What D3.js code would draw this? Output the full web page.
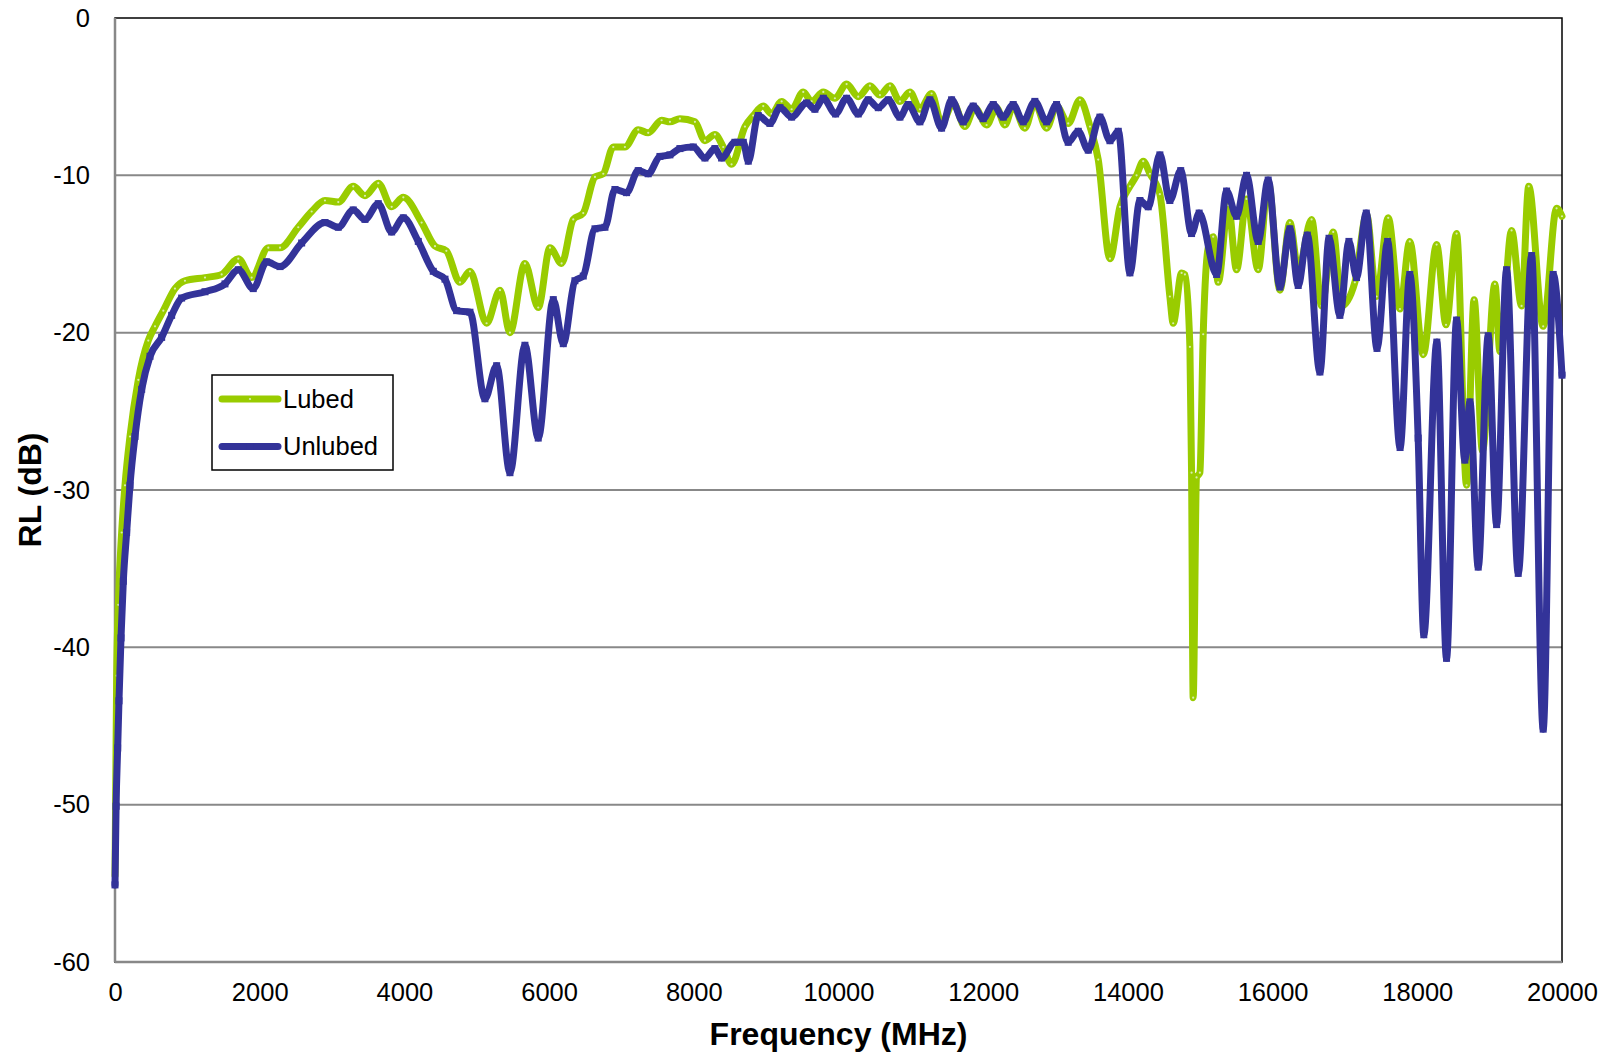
<!DOCTYPE html>
<html>
<head>
<meta charset="utf-8">
<title>RL vs Frequency</title>
<style>
  body, html { margin: 0; padding: 0; background: #fff; }
  svg { display: block; font-family: Arial, "Liberation Sans", sans-serif; }
</style>
</head>
<body>
<svg id="svg" width="1606" height="1054"></svg>
<script src="https://d3js.org/d3.v7.min.js"></script>
<script>
// frequency (MHz) and return loss (dB)
const lubedFreq = [0, 23, 46, 92, 138, 207, 322, 460, 553, 668, 829, 967, 1244, 1474, 1704, 1889, 2119, 2281, 2533, 2718,
  2902, 3086, 3293, 3455, 3639, 3824, 3985, 4238, 4423, 4580, 4768, 4906, 5136, 5321, 5459, 5666, 5850, 6012, 6173, 6334,
  6472, 6634, 6749, 6887, 7048, 7232, 7370, 7555, 7670, 7808, 8016, 8154, 8292, 8407, 8522, 8707, 8822, 8960, 9075, 9214,
  9352, 9513, 9628, 9790, 9950, 10112, 10273, 10434, 10573, 10711, 10849, 10987, 11125, 11287, 11425, 11586, 11747, 11885, 12047, 12185,
  12300, 12415, 12576, 12714, 12876, 13014, 13175, 13337, 13476, 13590, 13752, 13890, 14028, 14120, 14212, 14304, 14442, 14580, 14626, 14742,
  14788, 14857, 14880, 14902, 14949, 14995, 15041, 15110, 15179, 15248, 15387, 15502, 15640, 15801, 15939, 16101, 16239, 16354, 16539, 16677,
  16838, 16953, 17137, 17299, 17437, 17598, 17760, 17896, 18082, 18267, 18397, 18543, 18681, 18785, 18900, 19073, 19142, 19303, 19441, 19540,
  19740, 19925, 20000]
const lubedRL = [-54.5, -41.8, -37.3, -32.7, -29.7, -26.6, -23.0, -20.5, -19.6, -18.6, -17.2, -16.7, -16.5, -16.3, -15.3, -16.5, -14.6, -14.6, -13.3, -12.3,
  -11.6, -11.7, -10.7, -11.3, -10.5, -12.0, -11.4, -13.0, -14.5, -14.8, -16.8, -16.1, -19.4, -17.3, -20.0, -15.6, -18.4, -14.6, -15.6, -12.8,
  -12.4, -10.1, -9.9, -8.2, -8.2, -7.1, -7.3, -6.5, -6.6, -6.4, -6.6, -7.8, -7.4, -8.2, -9.3, -6.9, -6.2, -5.6, -6.1, -5.3,
  -5.8, -4.7, -5.3, -4.7, -5.1, -4.2, -5.0, -4.3, -4.9, -4.3, -5.3, -4.7, -5.8, -4.8, -6.7, -5.4, -6.9, -5.7, -6.8, -5.7,
  -6.8, -5.6, -7.0, -5.4, -7.0, -5.6, -6.7, -5.2, -6.9, -9.0, -15.3, -12.0, -10.7, -10.0, -9.1, -9.9, -11.2, -17.7, -19.4, -16.2,
  -16.3, -20.9, -28.9, -43.2, -29.2, -28.9, -20.1, -14.6, -13.9, -16.8, -11.9, -16.0, -11.5, -16.0, -10.4, -17.3, -13.0, -16.0, -12.8, -18.3,
  -13.6, -18.3, -16.8, -12.5, -17.7, -12.7, -18.5, -14.2, -21.4, -14.4, -19.5, -13.7, -29.7, -17.9, -27.5, -16.9, -21.2, -13.5, -18.3, -10.7,
  -19.6, -12.1, -12.6]

const unlubedFreq = [0, 15, 37, 55, 83, 115, 161, 207, 276, 369, 484, 645, 783, 921, 1244, 1520, 1704, 1911, 2096, 2281,
  2580, 2902, 3086, 3293, 3455, 3639, 3824, 3985, 4192, 4399, 4561, 4722, 4906, 5113, 5275, 5459, 5666, 5850, 6058, 6196,
  6357, 6472, 6634, 6772, 6910, 7071, 7232, 7370, 7532, 7670, 7808, 7993, 8154, 8292, 8384, 8568, 8684, 8753, 8891, 9052,
  9191, 9352, 9559, 9674, 9790, 9960, 10112, 10273, 10411, 10550, 10688, 10849, 10964, 11125, 11263, 11425, 11563, 11724, 11862, 12000,
  12139, 12277, 12415, 12553, 12714, 12876, 13014, 13175, 13314, 13452, 13613, 13752, 13867, 14028, 14166, 14281, 14442, 14580, 14730, 14880,
  14985, 15226, 15364, 15502, 15640, 15801, 15939, 16101, 16239, 16354, 16480, 16654, 16780, 16930, 17055, 17160, 17295, 17443, 17590, 17762,
  17896, 18012, 18090, 18270, 18404, 18543, 18657, 18727, 18842, 18980, 19096, 19234, 19395, 19580, 19740, 19878, 20000]
const unlubedRL = [-55.1, -50.1, -46.4, -43.4, -39.4, -35.8, -32.7, -29.7, -26.6, -23.6, -21.5, -20.3, -18.9, -17.8, -17.4, -16.9, -16.0, -17.2, -15.5, -15.8,
  -14.3, -13.0, -13.3, -12.2, -12.8, -11.8, -13.6, -12.7, -14.2, -16.1, -16.6, -18.6, -18.7, -24.2, -22.1, -28.9, -20.8, -26.7, -17.9, -20.7,
  -16.7, -16.4, -13.4, -13.3, -10.9, -11.1, -9.7, -9.9, -8.8, -8.7, -8.3, -8.2, -8.9, -8.3, -8.9, -7.9, -7.9, -9.1, -6.2, -6.7,
  -5.7, -6.3, -5.4, -5.8, -5.1, -6.1, -5.1, -6.1, -5.2, -5.7, -5.2, -6.3, -5.5, -6.6, -5.2, -7.0, -5.2, -6.6, -5.6, -6.4,
  -5.5, -6.3, -5.5, -6.6, -5.3, -6.6, -5.5, -7.9, -7.2, -8.4, -6.3, -7.8, -7.2, -16.2, -11.6, -12.0, -8.7, -11.6, -9.7, -13.7,
  -12.4, -16.3, -11.0, -12.6, -10.0, -14.2, -10.3, -17.1, -13.4, -17.0, -13.8, -22.5, -14.0, -18.9, -14.2, -16.5, -12.4, -21.0, -14.2, -27.3,
  -16.3, -26.7, -39.2, -20.6, -40.7, -19.2, -28.1, -24.4, -34.9, -20.2, -32.2, -16.0, -35.3, -15.1, -45.2, -16.3, -22.7]

const xTicks = [0, 2000, 4000, 6000, 8000, 10000, 12000, 14000, 16000, 18000, 20000]
const yTicks = [0, -10, -20, -30, -40, -50, -60]

const margin = { top: 18, right: 44, bottom: 92, left: 115 }
const width = 1606 - margin.left - margin.right
const height = 1054 - margin.top - margin.bottom

const svg = d3.select('#svg')
const g = svg.append('g').attr('transform', `translate(${margin.left},${margin.top})`)

const xscale = d3.scaleLinear().domain([0, 20000]).range([0, width])
const yscale = d3.scaleLinear().domain([-60, 0]).range([height, 0])

// grid
g.append('g')
  .selectAll('line')
  .data(yTicks.filter(d => d !== 0 && d !== -60))
  .enter()
  .append('line')
  .attr('x1', 0).attr('x2', width)
  .attr('y1', d => yscale(d)).attr('y2', d => yscale(d))
  .attr('stroke', '#888').attr('stroke-width', 2)

// frame: black top/right, gray axes
g.append('rect').attr('width', width).attr('height', height)
  .attr('fill', 'none').attr('stroke', '#000').attr('stroke-width', 1.5)
g.append('line').attr('x1', 0).attr('x2', 0).attr('y1', 0).attr('y2', height)
  .attr('stroke', '#888').attr('stroke-width', 2.5)
g.append('line').attr('x1', 0).attr('x2', width).attr('y1', height).attr('y2', height)
  .attr('stroke', '#888').attr('stroke-width', 2.5)

const plain = d => String(d).replace('\u2212', '-')
const bottomAxis = d3.axisBottom(xscale).tickValues(xTicks).tickSize(0).tickPadding(21).tickFormat(plain)
const leftAxis = d3.axisLeft(yscale).tickValues(yTicks).tickSize(0).tickPadding(25).tickFormat(plain)

const xa = g.append('g').attr('transform', `translate(0,${height})`).call(bottomAxis)
const ya = g.append('g').call(leftAxis)
;[xa, ya].forEach(a => {
  a.select('.domain').remove()
  a.selectAll('text').attr('font-size', 25.5).attr('fill', '#000')
    .attr('font-family', 'Arial, "Liberation Sans", sans-serif')
})

const line = d3.line()
  .x(d => xscale(d[0]))
  .y(d => yscale(d[1]))
  .curve(d3.curveMonotoneX)

const lubed = lubedFreq.map((f, i) => [f, lubedRL[i]])
const unlubed = unlubedFreq.map((f, i) => [f, unlubedRL[i]])

const green = '#99cc00'
const blue = '#333399'

g.append('path').datum(lubed)
  .attr('d', line).attr('fill', 'none')
  .attr('stroke', green).attr('stroke-width', 7)
  .attr('stroke-linejoin', 'round').attr('stroke-linecap', 'round')
g.append('g').selectAll('circle').data(lubed).enter().append('circle')
  .attr('cx', d => xscale(d[0])).attr('cy', d => yscale(d[1]))
  .attr('r', 1.1).attr('fill', '#d8ecb0')

g.append('path').datum(unlubed)
  .attr('d', line).attr('fill', 'none')
  .attr('stroke', blue).attr('stroke-width', 7)
  .attr('stroke-linejoin', 'round').attr('stroke-linecap', 'round')
g.append('g').selectAll('rect').data(unlubed).enter().append('rect')
  .attr('x', d => xscale(d[0]) - 3.5).attr('y', d => yscale(d[1]) - 3.5)
  .attr('width', 7).attr('height', 7).attr('fill', blue)

// legend
const legend = svg.append('g').attr('transform', 'translate(212,375)')
legend.append('rect').attr('width', 181).attr('height', 95)
  .attr('fill', '#fff').attr('stroke', '#000').attr('stroke-width', 1.5)
const items = [['Lubed', green], ['Unlubed', blue]]
items.forEach((it, i) => {
  const yy = 24 + i * 47.5
  legend.append('line').attr('x1', 10).attr('x2', 66).attr('y1', yy).attr('y2', yy)
    .attr('stroke', it[1]).attr('stroke-width', 7).attr('stroke-linecap', 'round')
  if (i === 1) {
    legend.append('rect').attr('x', 34.5).attr('y', yy - 3.5).attr('width', 7).attr('height', 7).attr('fill', blue)
  } else {
    legend.append('circle').attr('cx', 38).attr('cy', yy).attr('r', 1.1).attr('fill', '#d8ecb0')
  }
  legend.append('text').attr('x', 71).attr('y', yy).attr('dy', '0.35em')
    .attr('font-size', 25.5).text(it[0])
})

// axis titles
svg.append('text')
  .attr('x', margin.left + width / 2).attr('y', 1045)
  .attr('text-anchor', 'middle').attr('font-size', 32).attr('font-weight', 'bold')
  .text('Frequency (MHz)')
svg.append('text')
  .attr('transform', `translate(30,${margin.top + height / 2}) rotate(-90)`)
  .attr('dy', '0.35em')
  .attr('text-anchor', 'middle').attr('font-size', 32).attr('font-weight', 'bold')
  .text('RL (dB)')
</script>
</body>
</html>
